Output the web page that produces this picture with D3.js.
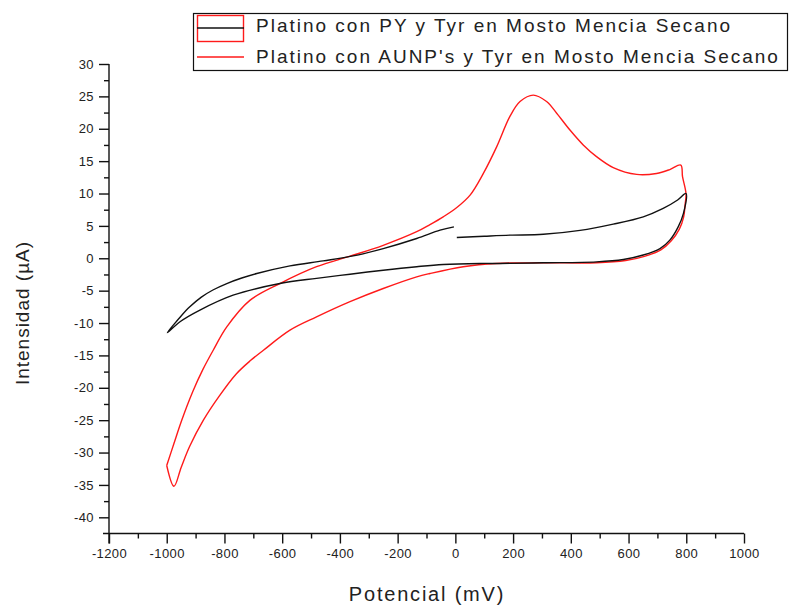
<!DOCTYPE html>
<html>
<head>
<meta charset="utf-8">
<script src="https://cdn.jsdelivr.net/npm/d3@7"></script>
<style>
  body { margin: 0; background: #fff; }
  svg { display: block; font-family: "Liberation Sans", Arial, sans-serif; }
</style>
</head>
<body>
<div id="chart"></div>
<script>
// Series: Pt with PY and Tyr (black)
const pyPotential = [5, 100, 189, 305, 432, 547, 651, 720, 770, 799,
  790, 772, 743, 709, 651, 582, 489, 305, 155, 85, -42, -134, -250, -365, -481, -608, -770, -885, -954, -998,
  -975, -950, -920, -880, -840, -792, -740, -688, -573, -458, -354, -250, -134, -53, -5];
const pyCurrent = [3.2, 3.4, 3.57, 3.7, 4.3, 5.27, 6.4, 7.7, 9.0, 10.0,
  6.9, 4.85, 2.8, 1.5, 0.5, -0.19, -0.55, -0.7, -0.8, -0.8, -0.96, -1.3, -1.84, -2.46, -3.1, -3.9, -5.7, -8.0, -9.8, -11.5,
  -10.2, -8.9, -7.5, -6.0, -4.9, -3.9, -3.05, -2.35, -1.17, -0.4, 0.37, 1.5, 3.06, 4.34, 4.85];

// Series: Pt with AuNP's and Tyr (red)
const aunpPotential = [-1000, -975, -948, -910, -875, -839, -792, -712, -608, -481, -365, -250, -134, -88, -42, 4, 51, 97, 143, 189, 224, 270, 316, 351, 397, 443, 489, 547, 628, 697, 743, 781, 787, 799,
  796, 791, 776, 748, 712, 655, 590, 489, 305, 143, 27, -88, -134, -250, -365, -481, -573, -665, -710, -760, -820, -873, -920, -950, -975, -1000];
const aunpCurrent = [-32, -28.6, -25, -20.6, -17.2, -14.2, -10.6, -6.5, -3.9, -1.3, 0.32, 2.0, 4.1, 5.2, 6.4, 7.8, 9.75, 13.1, 17.2, 21.9, 24.2, 25.2, 24.2, 22.4, 19.8, 17.5, 15.7, 14.0, 12.95, 13.1, 13.7, 14.4, 12.6, 10.0,
  8.3, 6.4, 4.5, 2.7, 1.3, 0.3, -0.35, -0.7, -0.7, -0.8, -1.3, -2.35, -2.87, -4.67, -6.7, -9.05, -11.1, -14.2, -15.8, -17.9, -21.4, -25, -29, -32.3, -35.2, -32];

const seriesNames = ["Platino con PY y Tyr en Mosto Mencia Secano", "Platino con AUNP's y Tyr en Mosto Mencia Secano"];
const xTicks = d3.range(-1200, 1001, 200);
const yTicks = d3.range(-40, 31, 5);

const W = 789, H = 605;
const svg = d3.select("#chart").append("svg").attr("width", W).attr("height", H);

const x = d3.scaleLinear().domain([-1200, 1000]).range([109, 744]);
const y = d3.scaleLinear().domain([-42.5, 30]).range([533.5, 64]);

// axes (major + minor ticks)
svg.append("g").attr("transform", `translate(0,${y(-42.5)})`)
  .call(d3.axisBottom(x).tickValues(xTicks).tickSize(10).tickPadding(5).tickFormat(d => String(d)));
svg.append("g").attr("transform", `translate(0,${y(-42.5)})`)
  .call(d3.axisBottom(x).tickValues(d3.range(-1100, 1000, 200)).tickSize(5).tickFormat(""));
svg.append("g").attr("transform", `translate(${x(-1200)},0)`)
  .call(d3.axisLeft(y).tickValues(yTicks).tickSize(10).tickPadding(5).tickFormat(d => String(d)));
svg.append("g").attr("transform", `translate(${x(-1200)},0)`)
  .call(d3.axisLeft(y).tickValues(d3.range(-37.5, 30, 5)).tickSize(5).tickFormat(""));

svg.selectAll(".domain").remove();
svg.selectAll(".tick line").attr("stroke", "#111").attr("stroke-width", 1.4);
svg.selectAll(".tick text").attr("fill", "#222").style("font-size", "13px").style("letter-spacing", "0.4px");

svg.append("line").attr("x1", x(-1200) - 6).attr("x2", x(1000))
  .attr("y1", y(-42.5)).attr("y2", y(-42.5)).attr("stroke", "#111").attr("stroke-width", 1.4);
svg.append("line").attr("x1", x(-1200)).attr("x2", x(-1200))
  .attr("y1", y(30)).attr("y2", y(-42.5) + 10).attr("stroke", "#111").attr("stroke-width", 1.4);

// axis titles
svg.append("text").attr("x", 427).attr("y", 601).attr("text-anchor", "middle")
  .style("font-size", "20px").style("letter-spacing", "1.8px").attr("fill", "#222")
  .text("Potencial (mV)");
svg.append("text").attr("transform", "translate(29,313) rotate(-90)").attr("text-anchor", "middle")
  .style("font-size", "19px").style("letter-spacing", "1px").attr("fill", "#222")
  .text("Intensidad (\u00b5A)");

// curves
const line = d3.line().x(d => x(d[0])).y(d => y(d[1])).curve(d3.curveCatmullRom.alpha(0.5));

svg.append("path").datum(d3.zip(aunpPotential, aunpCurrent))
  .attr("d", line).attr("fill", "none").attr("stroke", "#ff1a1a").attr("stroke-width", 1.4);
svg.append("path").datum(d3.zip(pyPotential, pyCurrent))
  .attr("d", line).attr("fill", "none").attr("stroke", "#111").attr("stroke-width", 1.4);

// legend
const lg = svg.append("g");
lg.append("rect").attr("x", 193.5).attr("y", 13.5).attr("width", 594).attr("height", 57)
  .attr("fill", "#fff").attr("stroke", "#111").attr("stroke-width", 1.2);
lg.append("rect").attr("x", 197.5).attr("y", 15.5).attr("width", 46).attr("height", 26)
  .attr("fill", "none").attr("stroke", "#ff1a1a").attr("stroke-width", 1.4);
lg.append("line").attr("x1", 197).attr("x2", 244).attr("y1", 28).attr("y2", 28)
  .attr("stroke", "#111").attr("stroke-width", 1.4);
lg.append("line").attr("x1", 197).attr("x2", 244).attr("y1", 57).attr("y2", 57)
  .attr("stroke", "#ff1a1a").attr("stroke-width", 1.4);
lg.selectAll("text.lab").data(seriesNames).join("text").attr("class", "lab")
  .attr("x", 256).attr("y", (d, i) => 32 + i * 31)
  .style("font-size", "19px").style("letter-spacing", "2px").attr("fill", "#222")
  .text(d => d);
</script>
</body>
</html>
